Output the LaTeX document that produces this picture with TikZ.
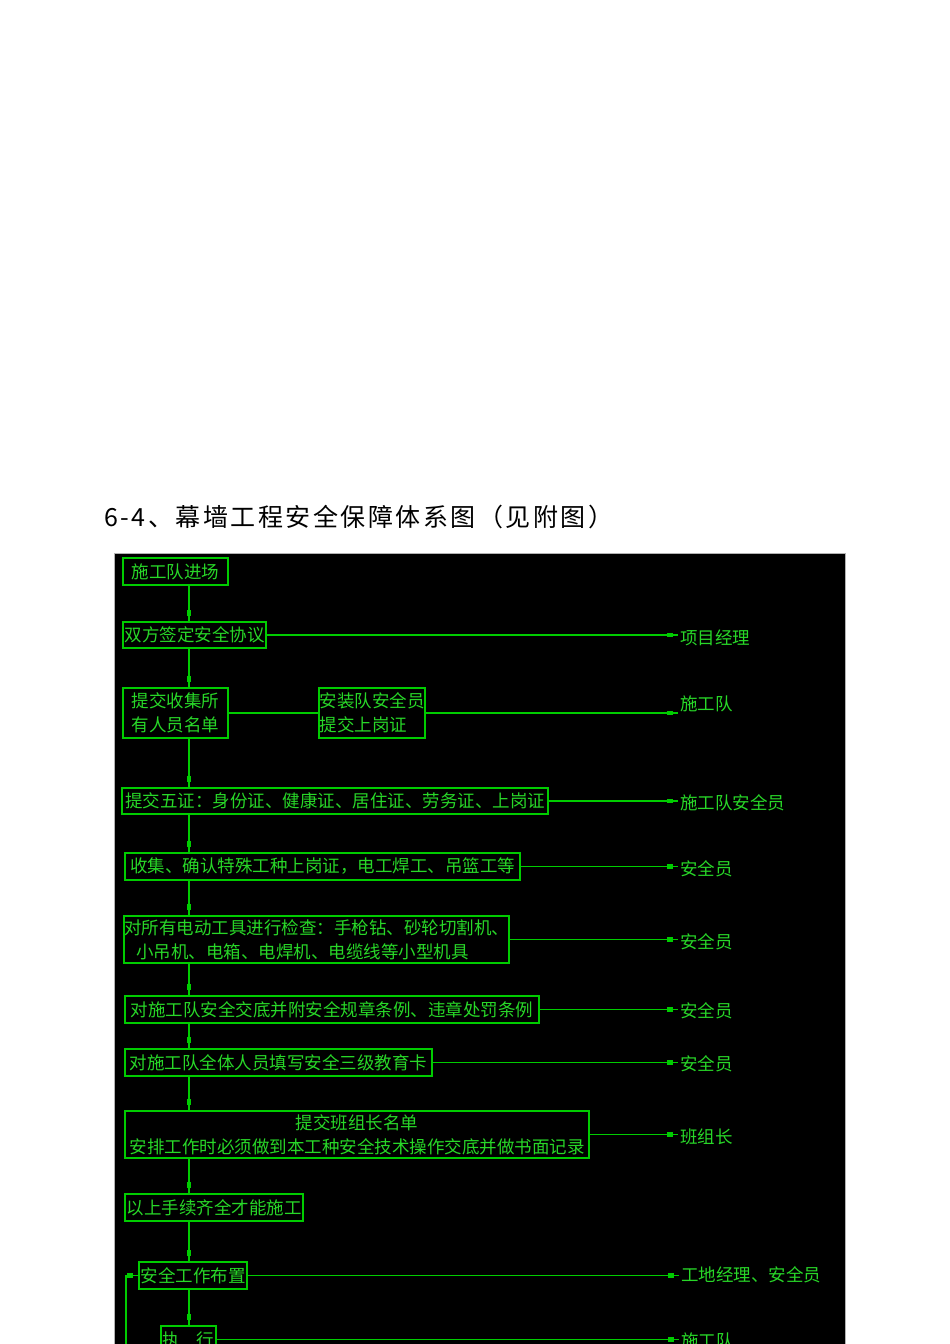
\documentclass[tikz,border=0pt]{standalone}
\usepackage{fontspec}
\setmainfont{Noto Sans CJK SC}
\newfontfamily\cjk{Noto Sans CJK SC}
\newfontfamily\cjktitle[LetterSpace=10]{Noto Sans CJK SC}
\usetikzlibrary{decorations.markings}
\definecolor{lg}{RGB}{0,204,0}
\definecolor{tg}{RGB}{40,215,40}
\begin{document}
\begin{tikzpicture}[x=1pt,y=-1pt,
  box/.style={draw=lg, line width=1.4pt, inner sep=0pt, text=tg, font=\cjk\fontsize{17.5}{24}\selectfont},
  lab/.style={anchor=west, inner xsep=2pt, inner ysep=0pt, text=tg, font=\cjk\fontsize{17.5}{24}\selectfont},
  conn/.style={draw=lg, line width=1.4pt, postaction={decorate},
    decoration={markings, mark=at position 1 with {\fill[lg] (-11.5pt,-2.3pt) rectangle (-5.5pt,2.3pt);}}},
  plain/.style={draw=lg, line width=1.4pt}]
\useasboundingbox (0,0) rectangle (950,1344);
\clip (0,0) rectangle (950,1344);
\fill[white] (0,0) rectangle (950,1344);
\node[anchor=west, inner sep=0pt, font=\cjktitle\fontsize{25}{30}\selectfont] (title) at (104,517) {6-4、幕墙工程安全保障体系图（见附图）};
\fill[black] (114.5,553) rectangle (845.5,1360);
\draw[gray!60, line width=0.6pt] (114.5,1360) -- (114.5,553) -- (845.5,553) -- (845.5,1360);
\coordinate (tr) at (189,0);
\coordinate (lp) at (126,1360);
% boxes
\node[box, minimum width=105, minimum height=27] (b1) at (175.5,571.5) {施工队进场};
\node[box, minimum width=143, minimum height=26] (b2) at (194.5,635) {双方签定安全协议};
\node[box, minimum width=105, minimum height=50, align=center] (b3) at (175.5,713) {提交收集所\\有人员名单};
\node[box, minimum width=106, minimum height=50, align=left] (b3b) at (372,713) {安装队安全员\\提交上岗证};
\node[box, minimum width=426, minimum height=26] (b4) at (335,801) {提交五证：身份证、健康证、居住证、劳务证、上岗证};
\node[box, minimum width=395, minimum height=27] (b5) at (322.5,866.5) {收集、确认特殊工种上岗证，电工焊工、吊篮工等};
\node[box, minimum width=383, minimum height=47, align=left] (b6) at (316.5,939.5) {对所有电动工具进行检查：手枪钻、砂轮切割机、\\\hspace{12pt}小吊机、电箱、电焊机、电缆线等小型机具};
\node[box, minimum width=414, minimum height=27] (b7) at (332,1009.5) {对施工队安全交底并附安全规章条例、违章处罚条例};
\node[box, minimum width=307, minimum height=27] (b8) at (278.5,1062.5) {对施工队全体人员填写安全三级教育卡};
\node[box, minimum width=464, minimum height=47, align=center] (b9) at (357,1134.5) {提交班组长名单\\安排工作时必须做到本工种安全技术操作交底并做书面记录};
\node[box, minimum width=178, minimum height=27] (b10) at (214,1207.5) {以上手续齐全才能施工};
\node[box, minimum width=108, minimum height=27] (b11) at (193,1275.5) {安全工作布置};
\node[box, minimum width=55, minimum height=27] (b12) at (188.5,1339.5) {执\hspace{17pt}行};
% labels
\node[lab] (l2) at (678,638) {项目经理};
\node[lab] (l3) at (678,704) {施工队};
\node[lab] (l4) at (678,803) {施工队安全员};
\node[lab] (l5) at (678,869) {安全员};
\node[lab] (l6) at (678,942) {安全员};
\node[lab] (l7) at (678,1011) {安全员};
\node[lab] (l8) at (678,1064) {安全员};
\node[lab] (l9) at (678,1137) {班组长};
\node[lab] (l11) at (679,1275) {工地经理、安全员};
\node[lab] (l12) at (679,1341) {施工队};
% trunk
\draw[conn] (b1.south -| tr) -- (b2.north -| tr);
\draw[conn] (b2.south -| tr) -- (b3.north -| tr);
\draw[conn] (b3.south -| tr) -- (b4.north -| tr);
\draw[conn] (b4.south -| tr) -- (b5.north -| tr);
\draw[conn] (b5.south -| tr) -- (b6.north -| tr);
\draw[conn] (b6.south -| tr) -- (b7.north -| tr);
\draw[conn] (b7.south -| tr) -- (b8.north -| tr);
\draw[conn] (b8.south -| tr) -- (b9.north -| tr);
\draw[conn] (b9.south -| tr) -- (b10.north -| tr);
\draw[conn] (b10.south -| tr) -- (b11.north -| tr);
\draw[conn] (b11.south -| tr) -- (b12.north -| tr);
% side
\draw[plain] (b3.east) -- (b3b.west);
\draw[conn] (b2.east) -- (b2.east -| l2.west);
\draw[conn] (b3b.east) -- (b3b.east -| l3.west);
\draw[conn] (b4.east) -- (b4.east -| l4.west);
\draw[conn] (b5.east) -- (b5.east -| l5.west);
\draw[conn] (b6.east) -- (b6.east -| l6.west);
\draw[conn] (b7.east) -- (b7.east -| l7.west);
\draw[conn] (b8.east) -- (b8.east -| l8.west);
\draw[conn] (b9.east) -- (b9.east -| l9.west);
\draw[conn] (b11.east) -- (b11.east -| l11.west);
\draw[conn] (b12.east) -- (b12.east -| l12.west);
% loop
\draw[conn] (lp) -- (lp |- b11.west) -- (b11.west);
\end{tikzpicture}
\end{document}
